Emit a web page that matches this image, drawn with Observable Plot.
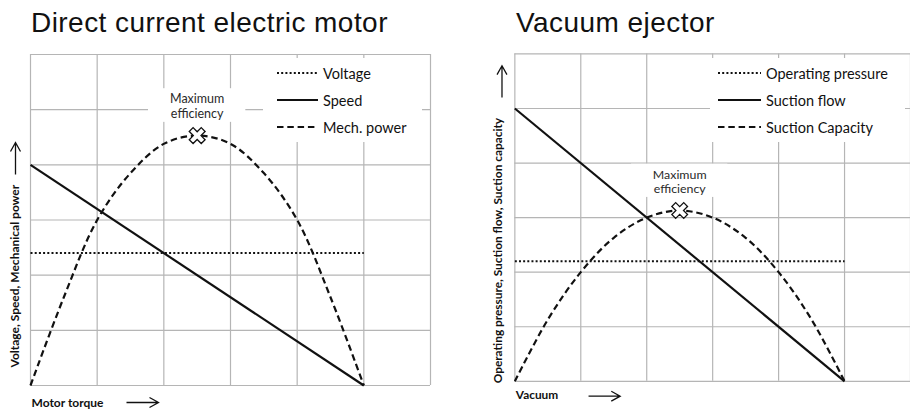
<!DOCTYPE html>
<html>
<head>
<meta charset="utf-8">
<script src="https://cdn.jsdelivr.net/npm/d3@7"></script>
<script src="https://cdn.jsdelivr.net/npm/@observablehq/plot@0.6"></script>
<style>
  html, body { margin: 0; padding: 0; background: #fff; }
  #root { position: relative; width: 910px; height: 410px; overflow: hidden; background: #fff; }
  .panel { position: absolute; top: 0; }
  .panel svg { display: block; }
  .title { position: absolute; top: 9.3px; font-family: "Liberation Sans", Arial, sans-serif; font-size: 28px;
           line-height: 28px; letter-spacing: 0.45px; color: #111; white-space: nowrap; }
  .legend { position: absolute; background: #fff; font-family: Lato, sans-serif; font-size: 14.5px; color: #111; }
  .legend .item { position: absolute; height: 20px; display: flex; align-items: center; white-space: nowrap; }
  .legend svg { display: block; margin-right: 5px; }
</style>
</head>
<body>
<div id="root"></div>
<script>
// ---------- data ----------
const gridTicks = [0, 1, 2, 3, 4, 5, 6];

// Direct current electric motor
const motorTitle = "Direct current electric motor";
const motorSeriesNames = ["Voltage", "Speed", "Mech. power"];
const motorTorqueEnds = [0, 5];
const motorVoltage = [2.4, 2.4];
const motorSpeed = [4, 0];
const motorTorque = [0, 0.5, 1, 1.5, 2, 2.5, 3, 3.5, 4, 4.5, 5];
const mechPower = [0, 1.6, 3.0, 3.85, 4.38, 4.53, 4.38, 3.85, 3.0, 1.6, 0];
const motorPeak = [2.5, 4.53];
const motorYLabel = "Voltage, Speed, Mechanical power";
const motorXLabel = "Motor torque";

// Vacuum ejector
const ejectorTitle = "Vacuum ejector";
const ejectorSeriesNames = ["Operating pressure", "Suction flow", "Suction Capacity"];
const vacuumEnds = [0, 5];
const operatingPressure = [2.2, 2.2];
const suctionFlow = [5, 0];
const vacuum = [0, 0.5, 1, 1.5, 2, 2.5, 3, 3.5, 4, 4.5, 5];
const suctionCapacity = [0, 1.13, 2.0, 2.63, 3.0, 3.13, 3.0, 2.63, 2.0, 1.13, 0];
const ejectorPeak = [2.5, 3.13];
const ejectorYLabel = "Operating pressure, Suction flow, Suction capacity";
const ejectorXLabel = "Vacuum";

const annotationText = "Maximum\nefficiency";

// ---------- styles ----------
const INK = "#111";
const GRID = "#b5b5b5";
const seriesStyles = [
  {strokeDasharray: "2,2.2", strokeWidth: 2},      // dotted
  {strokeDasharray: null, strokeWidth: 2.2},       // solid
  {strokeDasharray: "6.5,3.8", strokeWidth: 2.2}   // dashed
];

// outlined X marker
const crossSymbol = {
  draw(context, size) {
    const r = Math.sqrt(size / Math.PI);
    const a = r * 0.32;
    const pts = [[-a,-r],[a,-r],[a,-a],[r,-a],[r,a],[a,a],[a,r],[-a,r],[-a,a],[-r,a],[-r,-a],[-a,-a]];
    const c = Math.SQRT1_2;
    pts.forEach(([x, y], i) => {
      const px = (x - y) * c, py = (x + y) * c;
      if (i === 0) context.moveTo(px, py); else context.lineTo(px, py);
    });
    context.closePath();
  }
};
// axis direction arrows (open head)
const arrowRight = {
  draw(context, size) {
    const r = Math.sqrt(size / Math.PI);
    context.moveTo(-r, 0); context.lineTo(r, 0);
    context.moveTo(r - 9, -5); context.lineTo(r, 0); context.lineTo(r - 9, 5);
  }
};
const arrowUp = {
  draw(context, size) {
    const r = Math.sqrt(size / Math.PI);
    context.moveTo(0, r); context.lineTo(0, -r);
    context.moveTo(-5, -r + 9); context.lineTo(0, -r); context.lineTo(5, -r + 9);
  }
};

const zipXY = (xs, ys) => xs.map((x, i) => ({x, y: ys[i]}));

function makePanel(cfg) {
  const peak = {x: cfg.peak[0], y: cfg.peak[1]};
  const lines = [
    zipXY(cfg.xEnds, cfg.flat),
    zipXY(cfg.xEnds, cfg.linear),
    zipXY(cfg.xCurve, cfg.curve)
  ];
  const lineMarks = lines.map((data, i) =>
    Plot.line(data, {
      x: "x", y: "y", stroke: INK,
      strokeWidth: seriesStyles[i].strokeWidth,
      strokeDasharray: seriesStyles[i].strokeDasharray,
      curve: i === 2 ? "catmull-rom" : "linear",
      strokeLinecap: "butt"
    })
  );
  const arrowStyle = {fill: "none", stroke: INK, strokeWidth: 1.3, r: 16, strokeLinejoin: "miter"};
  const svg = Plot.plot({
    width: cfg.width, height: 410,
    marginTop: 54, marginBottom: 25, marginLeft: cfg.marginLeft, marginRight: cfg.marginRight,
    x: {domain: [0, 6], axis: null},
    y: {domain: [0, 6], axis: null},
    style: {background: "white", overflow: "visible"},
    marks: [
      Plot.ruleX(gridTicks, {stroke: GRID, strokeWidth: 1.2}),
      Plot.ruleY(gridTicks, {stroke: GRID, strokeWidth: 1.2}),
      Plot.rect([peak], {
        x1: d => d.x - 0.73, x2: d => d.x + 0.73,
        y1: d => d.y + 0.24, y2: d => d.y + 0.85,
        fill: "white"
      }),
      ...lineMarks,
      Plot.dot([peak], {x: "x", y: "y", symbol: crossSymbol, r: 8.5, fill: "white", stroke: INK, strokeWidth: 1.3}),
      Plot.text([peak], {x: "x", y: "y", text: () => annotationText, dy: -29.5, lineHeight: 1.2,
        fontFamily: "Lato", fontSize: 12.5, fill: "#2a2a2a", textAnchor: "middle", lineAnchor: "middle"}),
      // y label + arrow
      Plot.text([cfg.yLabel], {text: d => d, frameAnchor: "bottom-left", rotate: -90, textAnchor: "start",
        lineAnchor: "middle", dx: cfg.yLabelDx, dy: cfg.yLabelDy,
        fontFamily: "Lato", fontWeight: "bold", fontSize: 12, fill: INK}),
      Plot.dot([cfg.yLabel], {frameAnchor: "top-left", dx: cfg.yArrowDx, dy: cfg.yArrowDy, symbol: arrowUp, ...arrowStyle}),
      // x label + arrow
      Plot.text([cfg.xLabel], {text: d => d, frameAnchor: "bottom-left", textAnchor: "start",
        lineAnchor: "bottom", dx: 1, dy: cfg.xLabelDy,
        fontFamily: "Lato", fontWeight: "bold", fontSize: 12, fill: INK}),
      Plot.dot([cfg.xLabel], {frameAnchor: "bottom-left", dx: cfg.xArrowDx, dy: cfg.xArrowDy, symbol: arrowRight, ...arrowStyle})
    ]
  });
  const wrap = document.createElement("div");
  wrap.className = "panel";
  wrap.style.left = cfg.left + "px";
  wrap.appendChild(svg);

  const title = document.createElement("div");
  title.className = "title";
  title.style.left = cfg.titleX + "px";
  title.textContent = cfg.title;
  wrap.appendChild(title);

  const lg = document.createElement("div");
  lg.className = "legend";
  Object.assign(lg.style, {left: cfg.legend.left + "px", top: "58px", width: cfg.legend.width + "px", height: "84px"});
  cfg.names.forEach((name, i) => {
    const item = document.createElement("div");
    item.className = "item";
    item.style.left = cfg.legend.pad + "px";
    item.style.top = (15 + 27 * i - 10) + "px";
    const L = cfg.legend.sample;
    const st = seriesStyles[i];
    item.innerHTML = `<svg width="${L}" height="6"><line x1="0" x2="${L}" y1="3" y2="3" stroke="${INK}" stroke-width="${st.strokeWidth}" ${st.strokeDasharray ? `stroke-dasharray="${st.strokeDasharray}"` : ""}/></svg><span></span>`;
    item.querySelector("span").textContent = name;
    lg.appendChild(item);
  });
  wrap.appendChild(lg);
  document.getElementById("root").appendChild(wrap);
}

makePanel({
  left: 0, width: 455, marginLeft: 30, marginRight: 25,
  title: motorTitle, titleX: 31, names: motorSeriesNames,
  xEnds: motorTorqueEnds, flat: motorVoltage, linear: motorSpeed,
  xCurve: motorTorque, curve: mechPower, peak: motorPeak,
  yLabel: motorYLabel, yLabelDx: -15, yLabelDy: -18, yArrowDx: -15, yArrowDy: 104,
  xLabel: motorXLabel, xLabelDy: 21, xArrowDx: 112, xArrowDy: 17,
  legend: {left: 263, width: 159, pad: 14, sample: 41}
});

makePanel({
  left: 455, width: 460, marginLeft: 60, marginRight: 0,
  title: ejectorTitle, titleX: 61, names: ejectorSeriesNames,
  xEnds: vacuumEnds, flat: operatingPressure, linear: suctionFlow,
  xCurve: vacuum, curve: suctionCapacity, peak: ejectorPeak,
  yLabel: ejectorYLabel, yLabelDx: -17, yLabelDy: 2, yArrowDx: -13, yArrowDy: 28,
  xLabel: ejectorXLabel, xLabelDy: 18, xArrowDx: 90.5, xArrowDy: 15,
  legend: {left: 255, width: 195, pad: 8, sample: 43}
});
</script>
</body>
</html>
